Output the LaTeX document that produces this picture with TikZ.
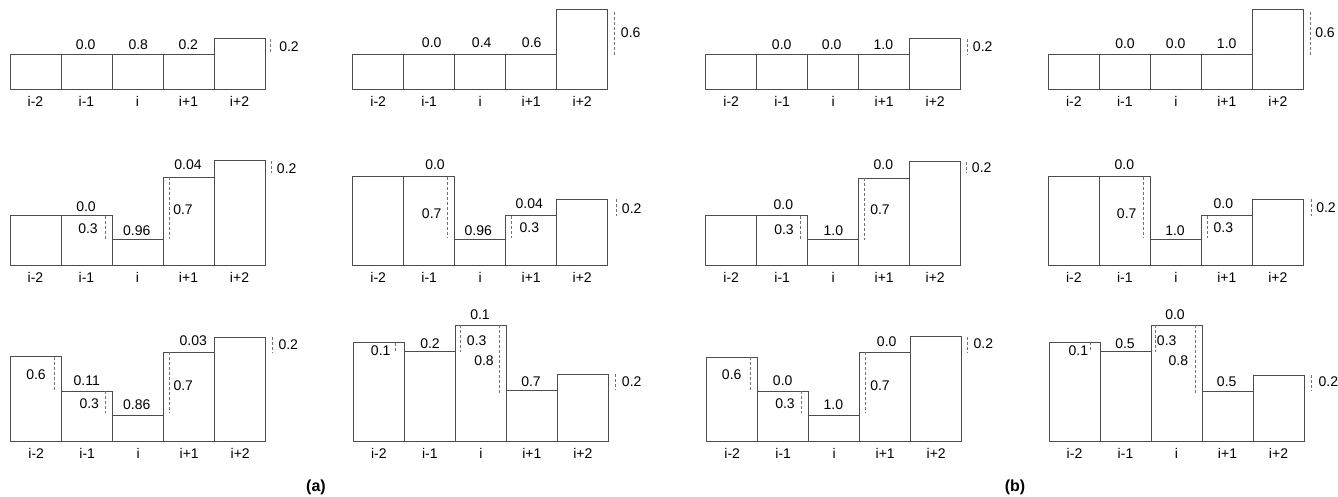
\documentclass[tikz,border=0pt]{standalone}
\usepackage{fontspec}
\setmainfont{Liberation Sans}
\usetikzlibrary{positioning}

% five bars of one panel: name, left x, base y, list of top y
\newcommand{\barpanel}[4]{%
  \foreach \t [count=\k] in {#4} {
    \draw[barbox] ({#2+(\k-1)*51},#3) rectangle ({#2+\k*51},\t);
  }
  \foreach \lab [count=\k] in {i-2,i-1,i,i+1,i+2} {
    \node[idx] (#1-\k) at ({#2+(\k-0.5)*51},#3+12) {\lab};
  }
}

\begin{document}
\begin{tikzpicture}[x=0.5pt, y=-0.5pt,
  barbox/.style={draw=black!70, line width=0.5pt, fill=white},
  dashmark/.style={draw=black!55, line width=0.45pt, dash pattern=on 1.5pt off 1pt},
  val/.style={inner sep=0pt, text height=5pt, text depth=0pt, font=\fontsize{7}{8}\selectfont},
  idx/.style={val},
  tag/.style={inner sep=0pt, text height=6pt, text depth=1.5pt, font=\fontsize{8}{9}\selectfont\bfseries}]
\useasboundingbox (0,0) rectangle (1338,497);

% ---- row 1
\barpanel{a1}{10}{90}{55,55,55,55,39}
\node[val] (a1-v2) at (85.7,45) {0.0};
\node[val] (a1-v3) at (138.3,45) {0.8};
\node[val] (a1-v4) at (188.3,45) {0.2};
\draw[dashmark] (270.7,39) -- (270.7,54);
\node[val] (a1-r) at (289,47) {0.2};

\barpanel{a2}{352.7}{90}{55,55,55,55,10}
\node[val] (a2-v2) at (431.7,43) {0.0};
\node[val] (a2-v3) at (481.7,43) {0.4};
\node[val] (a2-v4) at (531.7,43) {0.6};
\draw[dashmark] (614.3,12) -- (614.3,57);
\node[val] (a2-r) at (630.7,33) {0.6};

\barpanel{b1}{705.7}{90}{55,55,55,55,39}
\node[val] (b1-v2) at (781.7,45) {0.0};
\node[val] (b1-v3) at (831.7,45) {0.0};
\node[val] (b1-v4) at (883.3,45) {1.0};
\draw[dashmark] (967.3,39) -- (967.3,55);
\node[val] (b1-r) at (982.7,47) {0.2};

\barpanel{b2}{1048.3}{90}{55,55,55,55,10}
\node[val] (b2-v2) at (1125,43.3) {0.0};
\node[val] (b2-v3) at (1175.7,43.3) {0.0};
\node[val] (b2-v4) at (1226.7,43.3) {1.0};
\draw[dashmark] (1310,12) -- (1310,57);
\node[val] (b2-r) at (1325,33) {0.6};

% ---- row 2
\barpanel{a3}{10}{266}{215.7,215.7,239.3,177.3,161}
\node[val] (a3-v2) at (86,206.7) {0.0};
\node[val] (a3-d2) at (88,228.3) {0.3};
\draw[dashmark] (105,215.7) -- (105,239.3);
\node[val] (a3-v3) at (136.7,230) {0.96};
\draw[dashmark] (169,177.3) -- (169,239.3);
\node[val] (a3-d4) at (183,210) {0.7};
\node[val] (a3-v4) at (188,165) {0.04};
\draw[dashmark] (271.7,161) -- (271.7,173.3);
\node[val] (a3-r) at (286.7,168.3) {0.2};

\barpanel{a4}{352.7}{266}{176.7,176.7,239.3,215.7,199.3}
\node[val] (a4-v2) at (435,165) {0.0};
\draw[dashmark] (447.3,176.7) -- (447.3,237.3);
\node[val] (a4-d2) at (431.7,213.3) {0.7};
\node[val] (a4-v3) at (478.3,230) {0.96};
\node[val] (a4-v4) at (529.3,203.3) {0.04};
\draw[dashmark] (511.7,215.7) -- (511.7,238.3);
\node[val] (a4-d4) at (529.3,227.3) {0.3};
\draw[dashmark] (616,199.3) -- (616,216);
\node[val] (a4-r) at (631.7,208.3) {0.2};

\barpanel{b3}{705.7}{266}{215.7,215.7,240,178.3,161.7}
\node[val] (b3-v2) at (783.3,205) {0.0};
\node[val] (b3-d2) at (784,229.3) {0.3};
\draw[dashmark] (800.7,215.7) -- (800.7,240);
\node[val] (b3-v3) at (833.3,230) {1.0};
\draw[dashmark] (864.3,178.3) -- (864.3,240);
\node[val] (b3-d4) at (880,210) {0.7};
\node[val] (b3-v4) at (883.3,165) {0.0};
\draw[dashmark] (966.7,161.7) -- (966.7,173);
\node[val] (b3-r) at (981.7,168) {0.2};

\barpanel{b4}{1048.3}{266}{176.7,176.7,239.3,215.7,199.3}
\node[val] (b4-v2) at (1124.3,165) {0.0};
\draw[dashmark] (1143.3,176.7) -- (1143.3,237.3);
\node[val] (b4-d2) at (1126.7,213.3) {0.7};
\node[val] (b4-v3) at (1175,230) {1.0};
\node[val] (b4-v4) at (1223.3,203.3) {0.0};
\draw[dashmark] (1207.3,215.7) -- (1207.3,238.3);
\node[val] (b4-d4) at (1223.3,227.3) {0.3};
\draw[dashmark] (1311,199.3) -- (1311,216);
\node[val] (b4-r) at (1326,208) {0.2};

% ---- row 3
\barpanel{a5}{10.7}{441.3}{356.7,391,415,352.3,337.3}
\node[val] (a5-d1) at (36,374) {0.6};
\draw[dashmark] (54.3,356.7) -- (54.3,391.7);
\node[val] (a5-v2) at (86.7,380.7) {0.11};
\node[val] (a5-d2) at (89.3,403.3) {0.3};
\draw[dashmark] (105.3,391) -- (105.3,413.3);
\node[val] (a5-v3) at (136.7,404) {0.86};
\node[val] (a5-v4) at (193.3,340.7) {0.03};
\draw[dashmark] (169.3,352.3) -- (169.3,413.3);
\node[val] (a5-d4) at (183.3,385) {0.7};
\draw[dashmark] (272.7,337.3) -- (272.7,353.3);
\node[val] (a5-r) at (288.3,344) {0.2};

\barpanel{a6}{353.3}{441.3}{342.7,351.7,325,390,374}
\node[val] (a6-d1) at (380.7,350.7) {0.1};
\draw[dashmark] (395.7,342.7) -- (395.7,351.7);
\node[val] (a6-v2) at (430,343.3) {0.2};
\node[val] (a6-v3) at (480,315) {0.1};
\draw[dashmark] (460,325) -- (460,351.7);
\node[val] (a6-d3) at (476.7,340) {0.3};
\draw[dashmark] (499.3,325) -- (499.3,392.7);
\node[val] (a6-e3) at (484,360) {0.8};
\node[val] (a6-v4) at (531,381.7) {0.7};
\draw[dashmark] (615,374) -- (615,390);
\node[val] (a6-r) at (631.7,381.7) {0.2};

\barpanel{b5}{706.7}{441.3}{357.3,391,415,352.3,336.7}
\node[val] (b5-d1) at (731.7,374.7) {0.6};
\draw[dashmark] (750,357.3) -- (750,391);
\node[val] (b5-v2) at (782.7,380) {0.0};
\node[val] (b5-d2) at (785,403.3) {0.3};
\draw[dashmark] (801.7,391) -- (801.7,413.3);
\node[val] (b5-v3) at (833.3,404) {1.0};
\node[val] (b5-v4) at (886.7,341.7) {0.0};
\draw[dashmark] (865,352.3) -- (865,413.3);
\node[val] (b5-d4) at (880,385) {0.7};
\draw[dashmark] (967.3,336.7) -- (967.3,352.3);
\node[val] (b5-r) at (983.3,343.3) {0.2};

\barpanel{b6}{1049}{441.3}{342.3,351.7,325,391,375}
\node[val] (b6-d1) at (1078.3,350.7) {0.1};
\draw[dashmark] (1090.7,342.3) -- (1090.7,351.7);
\node[val] (b6-v2) at (1125,343.3) {0.5};
\node[val] (b6-v3) at (1175,315) {0.0};
\draw[dashmark] (1155,325) -- (1155,351.7);
\node[val] (b6-d3) at (1166.7,340) {0.3};
\draw[dashmark] (1195,325) -- (1195,392.7);
\node[val] (b6-e3) at (1178.3,360) {0.8};
\node[val] (b6-v4) at (1226.7,381.7) {0.5};
\draw[dashmark] (1311.7,375) -- (1311.7,391);
\node[val] (b6-r) at (1328.3,381.7) {0.2};

% ---- captions
\node[tag] (capa) at (316,487) {(a)};
\node[tag] (capb) at (1015,487) {(b)};
\end{tikzpicture}
\end{document}
